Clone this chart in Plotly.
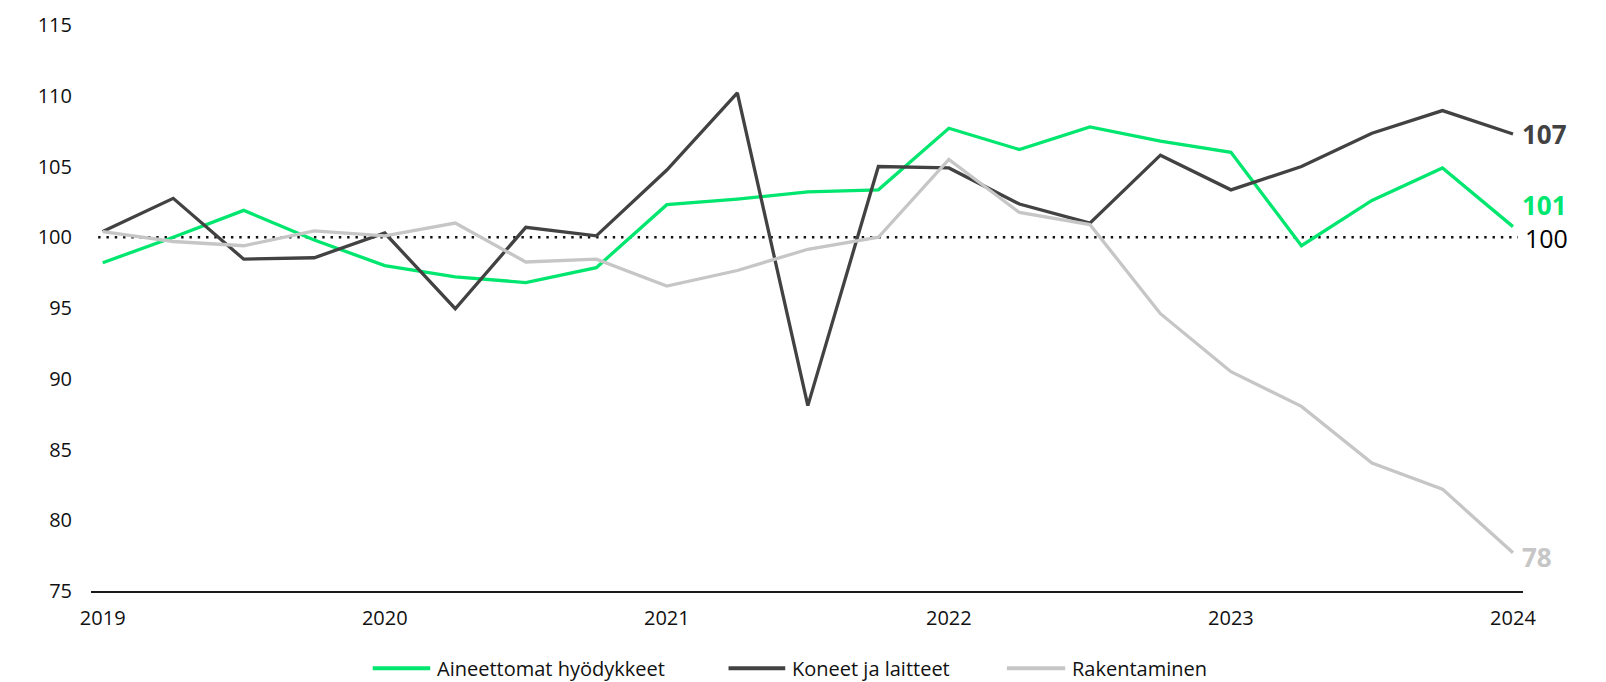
import plotly.graph_objects as go

# ---- data ----
quarters = [
    "2019 Q1", "2019 Q2", "2019 Q3", "2019 Q4",
    "2020 Q1", "2020 Q2", "2020 Q3", "2020 Q4",
    "2021 Q1", "2021 Q2", "2021 Q3", "2021 Q4",
    "2022 Q1", "2022 Q2", "2022 Q3", "2022 Q4",
    "2023 Q1", "2023 Q2", "2023 Q3", "2023 Q4",
    "2024 Q1",
]
year_tick_positions = ["2019 Q1", "2020 Q1", "2021 Q1", "2022 Q1", "2023 Q1", "2024 Q1"]
year_labels = ["2019", "2020", "2021", "2022", "2023", "2024"]

series_names = ["Aineettomat hyödykkeet", "Koneet ja laitteet", "Rakentaminen"]

aineettomat = [98.2, 100.0, 101.9, 99.8, 98.0, 97.2, 96.8, 97.85, 102.3, 102.7, 103.2,
               103.35, 107.7, 106.2, 107.8, 106.8, 106.0, 99.4, 102.6, 104.9, 100.75]
koneet = [100.4, 102.75, 98.45, 98.55, 100.3, 94.95, 100.7, 100.1, 104.75, 110.2, 88.1,
          105.0, 104.9, 102.35, 101.0, 105.8, 103.35, 105.0, 107.35, 108.95, 107.3]
rakentaminen = [100.4, 99.7, 99.4, 100.45, 100.1, 101.0, 98.25, 98.45, 96.55, 97.65, 99.15,
                100.0, 105.5, 101.75, 100.9, 94.6, 90.5, 88.05, 84.05, 82.2, 77.7]

base_level = 100
y_ticks = [75, 80, 85, 90, 95, 100, 105, 110, 115]

colors = ["#00E66E", "#424242", "#C6C6C6"]
label_shift = [22, 0, -4]

FONT = "Open Sans"

fig = go.Figure()
all_series = [aineettomat, koneet, rakentaminen]
for name, vals, col in zip(series_names, all_series, colors):
    fig.add_trace(go.Scatter(
        x=quarters, y=vals, name=name, mode="lines",
        line=dict(color=col, width=3.3), showlegend=False,
    ))

# reference line at 100
fig.add_shape(type="line", xref="paper", yref="y", x0=0.005, x1=0.9965,
              y0=base_level, y1=base_level,
              line=dict(color="#111111", width=2.4, dash="2.4px,5.9px"), layer="below")

annotations = []
# end labels
for vals, col, ys in zip(all_series, colors, label_shift):
    annotations.append(dict(
        x=quarters[-1], y=vals[-1], xref="x", yref="y",
        text=str(int(round(vals[-1]))), showarrow=False,
        xanchor="left", yanchor="middle", xshift=7, yshift=ys,
        font=dict(family=FONT, size=26, color=col, weight="bold"),
    ))
annotations.append(dict(
    x=quarters[-1], y=base_level, xref="x", yref="y",
    text=str(base_level), showarrow=False,
    xanchor="left", yanchor="middle", xshift=10, yshift=-1,
    font=dict(family=FONT, size=25, color="#000000"),
))

# custom legend
legend_line_x = [(0.1967, 0.2369), (0.4452, 0.4848), (0.6396, 0.6803)]
legend_y = -0.1365
for (x0, x1), name, col in zip(legend_line_x, series_names, colors):
    fig.add_shape(type="line", xref="paper", yref="paper", x0=x0, x1=x1,
                  y0=legend_y, y1=legend_y, line=dict(color=col, width=4))
    annotations.append(dict(
        x=x1 + 0.0042, y=legend_y, xref="paper", yref="paper",
        text=name, showarrow=False, xanchor="left", yanchor="middle",
        borderpad=0,
        font=dict(family=FONT, size=20, color="#111111"),
    ))

# page body has an 8px margin: figure sized / offset to compensate
fig.update_layout(
    width=1598, height=674,
    margin=dict(l=83, r=83, t=17, b=91),
    paper_bgcolor="white", plot_bgcolor="white",
    font=dict(family=FONT, size=20, color="#111111"),
    annotations=annotations,
    showlegend=False,
)
fig.update_xaxes(
    type="category", range=[-0.166, 20.142], automargin=False,
    tickmode="array", tickvals=year_tick_positions, ticktext=year_labels,
    showgrid=False, zeroline=False,
    showline=True, linecolor="#1a1a1a", linewidth=2,
    ticks="", ticklabelstandoff=8,
    tickfont=dict(family=FONT, size=20, color="#111111"),
)
fig.update_yaxes(
    range=[75, 115], tickmode="array", tickvals=y_ticks, automargin=False,
    showgrid=False, zeroline=False, showline=False,
    ticks="", ticklabelstandoff=18,
    tickfont=dict(family=FONT, size=20, color="#111111"),
)

fig.write_html("out.html")
